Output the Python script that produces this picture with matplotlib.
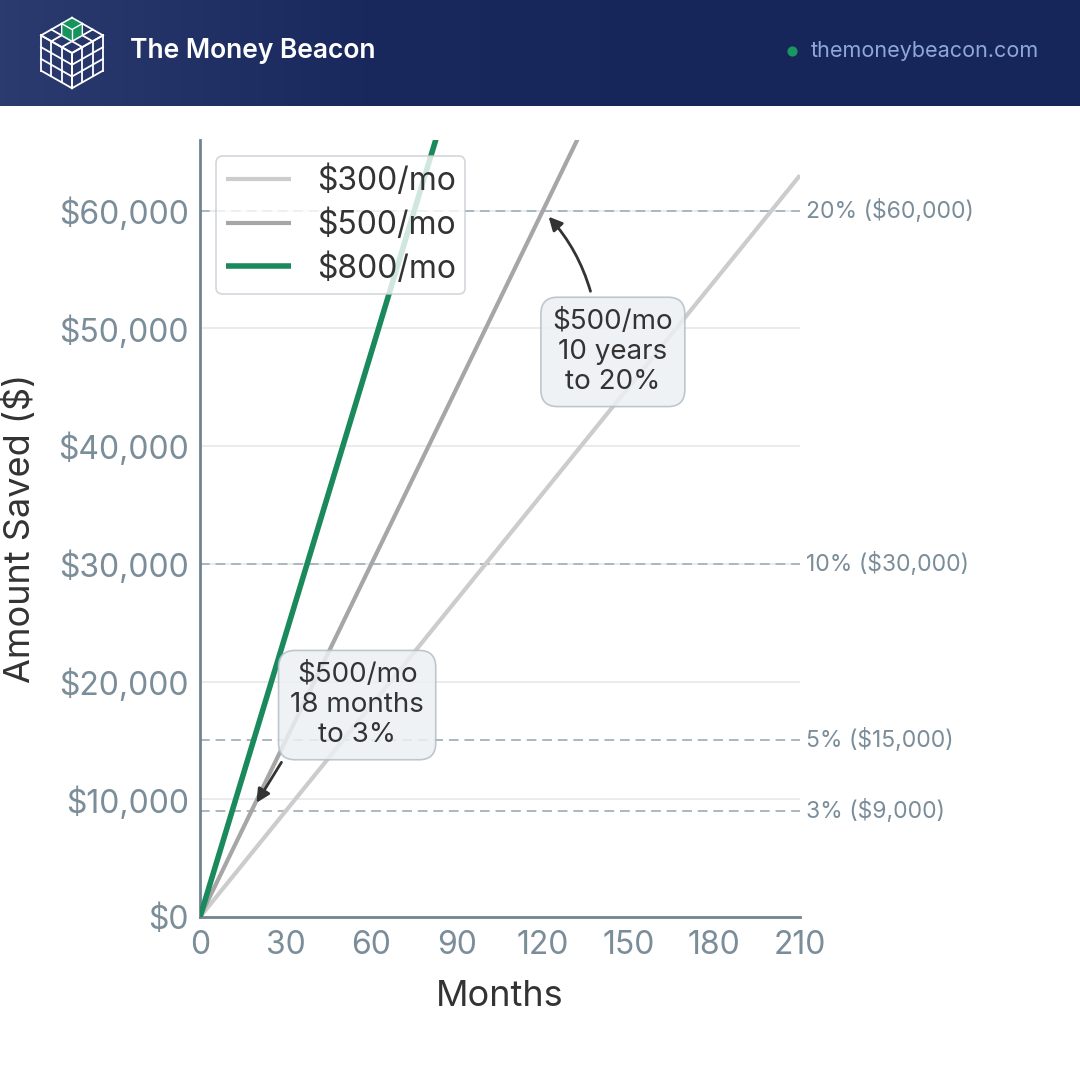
import matplotlib
matplotlib.use("Agg")
import matplotlib.pyplot as plt
from matplotlib.colors import LinearSegmentedColormap
import numpy as np

plt.rcParams['font.family'] = ['Inter', 'DejaVu Sans']

# data
months = [0, 210]
series_labels = ['$300/mo', '$500/mo', '$800/mo']
saved_300 = [0, 63000]
saved_500 = [0, 105000]
saved_800 = [0, 168000]
series_colors = ['#CCCCCC', '#A6A6A6', '#1A8A5C']
series_widths = [3.0, 3.0, 4.0]

target_levels = [9000, 15000, 30000, 60000]
target_labels = ['3% ($9,000)', '5% ($15,000)', '10% ($30,000)', '20% ($60,000)']

xticks = [0, 30, 60, 90, 120, 150, 180, 210]
yticks = [0, 10000, 20000, 30000, 40000, 50000, 60000]

TICK_COL = '#7A8D99'
SPINE_COL = '#6F8490'
TEXT_COL = '#333333'

fig = plt.figure(figsize=(10.8, 10.8), dpi=100)
fig.patch.set_facecolor('white')

# header band
hdr = fig.add_axes([0, 1 - 106 / 1080, 1, 106 / 1080])
grad = np.linspace(0, 1, 256).reshape(1, -1)
cmap = LinearSegmentedColormap.from_list('hdr', ['#2B3B70', '#19295D', '#17265A', '#17265A'])
hdr.imshow(grad, aspect='auto', cmap=cmap, extent=[0, 1, 0, 1])
hdr.set_xlim(0, 1)
hdr.set_ylim(0, 1)
hdr.axis('off')
hdr.text(130 / 1080, 0.52, 'The Money Beacon', color='white', fontsize=19,
         fontweight='semibold', va='center', ha='left')
hdr.scatter([792 / 1080], [0.52], s=40, color='#1A9660', zorder=3)
hdr.text(811 / 1080, 0.52, 'themoneybeacon.com', color='#8FA8DA', fontsize=15.5,
         va='center', ha='left')

# logo: isometric 3x3x3 cube
logo = fig.add_axes([38 / 1080, 1 - 90 / 1080, 68 / 1080, 74 / 1080])
logo.set_xlim(-0.95, 0.95)
logo.set_ylim(-1.05, 1.05)
logo.axis('off')
top = np.array([0.0, 1.0])
ul = np.array([-0.866, 0.5])
ur = np.array([0.866, 0.5])
ctr = np.array([0.0, 0.0])
faces = [
    (top, ul - top, ur - top),
    (ul, ctr - ul, np.array([0.0, -1.0])),
    (ctr, ur - ctr, np.array([0.0, -1.0])),
]
for o, p, q in faces:
    for i in range(4):
        a = o + p * i / 3
        logo.plot([a[0], (a + q)[0]], [a[1], (a + q)[1]], color='white', lw=1.3)
        b = o + q * i / 3
        logo.plot([b[0], (b + p)[0]], [b[1], (b + p)[1]], color='white', lw=1.3)
s = 1 / 3
hexpts = np.array([top, top + (ul - top) * s, top + (ul - top) * s + np.array([0, -s]),
                   top + np.array([0, -2 * s]), top + (ur - top) * s + np.array([0, -s]),
                   top + (ur - top) * s])
logo.fill(hexpts[:, 0], hexpts[:, 1], color='#17935E', zorder=3)
c = top + np.array([0, -s])
logo.plot([hexpts[1][0], c[0], hexpts[5][0]], [hexpts[1][1], c[1], hexpts[5][1]],
          color='white', lw=1.0, zorder=4)
logo.plot([c[0], c[0]], [c[1], hexpts[3][1]], color='white', lw=1.0, zorder=4)
logo.plot(np.append(hexpts[:, 0], hexpts[0, 0]), np.append(hexpts[:, 1], hexpts[0, 1]),
          color='white', lw=1.0, zorder=4)

# main chart
ax = fig.add_axes([200 / 1080, 1 - 917 / 1080, 600 / 1080, 777 / 1080])
ax.set_xlim(0, 210)
ax.set_ylim(0, 66000)

for v in yticks[1:]:
    ax.axhline(v, color='#E6E8EA', lw=1.2, zorder=1)

for lvl, lab in zip(target_levels, target_labels):
    ax.axhline(lvl, color='#A9B8C0', lw=1.4, ls=(0, (5, 3)), zorder=2)
    ax.text(210 + 2, lvl, lab, color=TICK_COL, fontsize=16.5, va='center', ha='left',
            clip_on=False)

for vals, lab, col, lw in zip([saved_300, saved_500, saved_800], series_labels,
                              series_colors, series_widths):
    ax.plot(months, vals, color=col, lw=lw, label=lab, zorder=3, solid_capstyle='butt')

ax.set_xticks(xticks)
ax.set_yticks(yticks)
ax.set_yticklabels(['${:,}'.format(v) for v in yticks])
ax.tick_params(length=0, labelsize=23, labelcolor=TICK_COL, pad=8)
ax.tick_params(axis='x', pad=9)
for sp in ['top', 'right']:
    ax.spines[sp].set_visible(False)
for sp in ['left', 'bottom']:
    ax.spines[sp].set_color(SPINE_COL)
    ax.spines[sp].set_linewidth(2)

ax.set_xlabel('Months', fontsize=26, color=TEXT_COL, labelpad=14)
ax.set_ylabel('Amount Saved ($)', fontsize=26, color=TEXT_COL, labelpad=15)

leg = ax.legend(loc='upper left', bbox_to_anchor=(0.027, 0.979), fontsize=23,
                frameon=True, framealpha=0.8, edgecolor='#C8CDD2', fancybox=True,
                handlelength=2.05, handletextpad=0.8, labelspacing=0.38,
                borderpad=0.3, borderaxespad=0)
leg.get_frame().set_linewidth(1.2)
for t in leg.get_texts():
    t.set_color(TEXT_COL)
leg.set_zorder(6)

box = dict(boxstyle='round,pad=0.42,rounding_size=0.6', facecolor='#EBF0F3',
           edgecolor='#B5BEC6', lw=1.2, alpha=0.85)
ax.annotate('$500/mo\n18 months\nto 3%', xy=(18, 9000), xytext=(55, 18000),
            ha='center', va='center', fontsize=20, color=TEXT_COL, bbox=box,
            linespacing=1.2, zorder=7,
            arrowprops=dict(arrowstyle='-|>', color=TEXT_COL, lw=2,
                            mutation_scale=20, relpos=(0, 0), shrinkA=4, shrinkB=7))
ax.annotate('$500/mo\n10 years\nto 20%', xy=(120, 60000), xytext=(144.5, 48000),
            ha='center', va='center', fontsize=20, color=TEXT_COL, bbox=box,
            linespacing=1.2, zorder=7,
            arrowprops=dict(arrowstyle='-|>', color=TEXT_COL, lw=2,
                            mutation_scale=20, relpos=(0.35, 1), shrinkA=4, shrinkB=6,
                            connectionstyle='arc3,rad=0.15'))

fig.savefig('out.png', dpi=100)
